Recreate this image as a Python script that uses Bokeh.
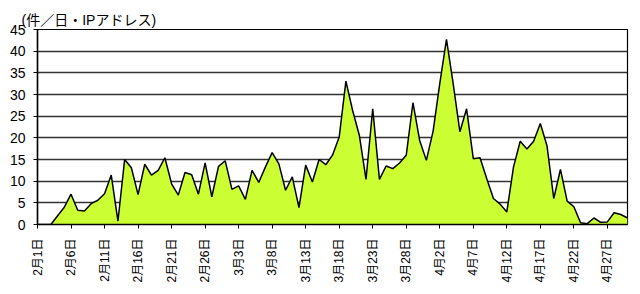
import math
from bokeh.plotting import figure
from bokeh.models import Range1d, FixedTicker, Title
from bokeh.embed import file_html
from bokeh.resources import INLINE

values = [0, 0, 0, 2, 4, 7, 3.3, 3.1, 4.8, 5.6,
          7.1, 11.4, 0.8, 15, 13.1, 6.9, 13.9, 11.4, 12.5, 15.4,
          9.4, 6.8, 12, 11.5, 7, 14.2, 6.4, 13.4, 14.7, 8.1,
          8.9, 5.8, 12.5, 9.7, 13.3, 16.6, 14, 7.9, 11, 3.9,
          13.7, 9.8, 15, 13.8, 16, 20.2, 33.1, 26.3, 20.6, 10.4,
          26.7, 10.4, 13.5, 12.9, 14.2, 16, 28.1, 19.4, 14.8, 21.5,
          32.5, 42.7, 32.5, 21.4, 26.7, 15.2, 15.4, 10.6, 6, 4.7,
          2.9, 13.3, 19.2, 17.4, 19.2, 23.3, 18.1, 6, 12.7, 5.4,
          4.1, 0.4, 0.2, 1.5, 0.5, 0.6, 2.7, 2.3, 1.5]
tick_labels = ["2月1日", "2月6日", "2月11日", "2月16日", "2月21日", "2月26日",
               "3月3日", "3月8日", "3月13日", "3月18日", "3月23日", "3月28日",
               "4月2日", "4月7日", "4月12日", "4月17日", "4月22日", "4月27日"]
y_ticks = [0, 5, 10, 15, 20, 25, 30, 35, 40, 45]
unit_label = "(件／日・IPアドレス)"

days = list(range(len(values)))
tick_pos = [i * 5 for i in range(len(tick_labels))]

FONT = "Liberation Sans, Noto Sans CJK JP"

p = figure(width=640, height=294, output_backend="svg", toolbar_location=None,
           x_range=Range1d(0, len(values) - 1), y_range=Range1d(0, 45),
           min_border_left=37, min_border_right=13, min_border_top=29,
           min_border_bottom=70)
p.background_fill_color = "white"
p.border_fill_color = "white"
p.outline_line_color = "black"
p.outline_line_width = 1.2

p.varea(x=days, y1=[0] * len(values), y2=values, fill_color="#CCFF33")
p.line(x=days, y=values, line_color="black", line_width=1.5)

p.xgrid.visible = False
p.ygrid.ticker = FixedTicker(ticks=y_ticks)
p.ygrid.grid_line_color = "#333333"
p.ygrid.grid_line_width = 1.3

p.yaxis.ticker = FixedTicker(ticks=y_ticks)
p.yaxis.major_label_text_font = FONT
p.yaxis.major_label_text_font_size = "14px"
p.yaxis.major_label_text_color = "black"
p.yaxis.axis_line_color = "black"
p.yaxis.axis_line_width = 1.5
p.yaxis.major_tick_line_color = "black"
p.yaxis.major_tick_out = 4
p.yaxis.major_tick_in = 0
p.yaxis.minor_tick_line_color = None
p.yaxis.major_label_standoff = 8

p.xaxis.ticker = FixedTicker(ticks=tick_pos)
p.xaxis.major_label_overrides = {tp: lab for tp, lab in zip(tick_pos, tick_labels)}
p.xaxis.major_label_orientation = math.pi / 2
p.xaxis.major_label_text_font = FONT
p.xaxis.major_label_text_font_size = "12px"
p.xaxis.major_label_text_color = "black"
p.xaxis.axis_line_color = "black"
p.xaxis.axis_line_width = 1.5
p.xaxis.major_tick_line_color = "black"
p.xaxis.major_tick_out = 4
p.xaxis.major_tick_in = 0
p.xaxis.minor_tick_line_color = None
p.xaxis.major_label_standoff = 10

p.title = Title(text=unit_label, text_font=FONT, text_font_size="14px",
                text_font_style="normal", text_color="black",
                offset=-16, standoff=4)

open("out.html", "w").write(file_html(p, INLINE))
